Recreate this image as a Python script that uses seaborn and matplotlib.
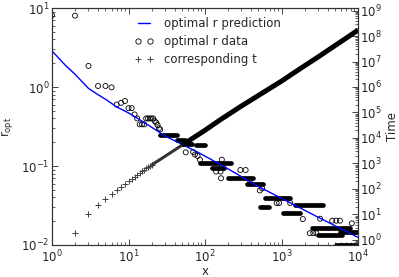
import matplotlib
matplotlib.use("Agg")
import matplotlib.pyplot as plt
import matplotlib.ticker as mticker
import seaborn as sns
import numpy as np
from matplotlib.lines import Line2D

# optimal r prediction
pred_x = [1, 1.5, 2, 3, 4, 5, 7, 10, 15, 20, 30, 50, 80, 130, 200, 500, 1000, 3000, 10000]
pred_r = [2.86, 1.88, 1.45, 0.96, 0.80, 0.70, 0.56, 0.47, 0.37, 0.31, 0.24, 0.188, 0.15,
          0.116, 0.092, 0.055, 0.039, 0.0225, 0.0125]

# optimal r data, isolated circles
data_x = [1, 2, 3, 4, 5, 6, 7, 8, 9, 10, 11, 12, 13, 14, 15, 16, 17, 18, 19, 20, 21, 22,
          23, 24, 25, 26, 56, 70, 74, 80, 86, 140, 160, 162, 166, 290, 340, 387, 520, 560,
          865, 930, 1300, 1900, 2350, 2600, 2850, 3200, 4600, 5200, 5800, 8300]
data_r = [8.1, 8.0, 1.85, 1.03, 1.03, 0.99, 0.60, 0.63, 0.665, 0.54, 0.54, 0.45, 0.40,
          0.337, 0.337, 0.337, 0.40, 0.40, 0.40, 0.40, 0.40, 0.37, 0.355, 0.33, 0.30, 0.29,
          0.149, 0.15, 0.14, 0.134, 0.12, 0.085, 0.085, 0.07, 0.12, 0.089, 0.089, 0.066,
          0.049, 0.052, 0.034, 0.034, 0.034, 0.0213, 0.0141, 0.0141, 0.0141, 0.0215,
          0.0203, 0.0203, 0.0203, 0.0188]

# optimal r data, runs of equal r (overlapping circles)
run_x0 = [25.7, 42.5, 50, 76, 86, 125, 200, 350, 610, 525, 1050, 1500, 2500, 3000, 5800, 5200]
run_x1 = [42.5, 55, 67, 100, 220, 175, 425, 575, 1300, 680, 1750, 3500, 7800, 6100, 10000, 10000]
run_r = [0.247, 0.213, 0.19, 0.185, 0.11, 0.094, 0.070, 0.060, 0.039, 0.030, 0.0254,
         0.032, 0.0165, 0.0134, 0.0147, 0.0100]

# corresponding t, separate plus markers
t_x = [2, 3, 4, 5, 6, 7, 8, 9, 10, 11, 12, 13, 14, 15, 16, 17, 18, 19, 20]
t_val = [1.9, 10, 23, 39, 63, 89, 120, 157, 200, 240, 288, 346, 410, 494, 570, 665, 740,
         820, 870]
# corresponding t, dense band
band_x = [20, 30, 50, 100, 157, 300, 1000, 1746, 3000, 10000]
band_t = [870, 1.9e3, 5.2e3, 2.0e4, 5.1e4, 1.8e5, 1.7e6, 5.2e6, 1.5e7, 1.7e8]

sns.set_style("ticks")
plt.rcParams["font.family"] = ["DejaVu Sans"]
plt.rcParams["font.size"] = 8.5
plt.rcParams["xtick.direction"] = "in"
plt.rcParams["ytick.direction"] = "in"

fig = plt.figure(figsize=(3.99, 2.77), dpi=100)
ax = fig.add_axes([52 / 399, 1 - 245 / 277, 306 / 399, 237 / 277])
ax.set_xscale("log")
ax.set_yscale("log")

sns.lineplot(x=pred_x, y=pred_r, ax=ax, color="#0000ff", linewidth=1.0, zorder=3)
sns.scatterplot(x=data_x, y=data_r, ax=ax, marker="o", s=13, facecolor="none",
                edgecolor="k", linewidth=0.6, zorder=2)
for x0, x1, r in zip(run_x0, run_x1, run_r):
    ax.plot([x0, x1], [r, r], color="k", linewidth=3.4, solid_capstyle="round", zorder=2)

ax.set_xlim(1, 1e4)
ax.set_ylim(1e-2, 1e1)
ax.set_xlabel("x")
ax.xaxis.set_label_coords(0.5, -0.085)
ax.set_ylabel(r"r$_{\rm opt}$", labelpad=4)
ax.tick_params(which="both", top=True, right=False, labelsize=8.5)
ax.tick_params(which="major", length=4, width=0.6)
ax.tick_params(which="minor", length=2, width=0.5)
ax.tick_params(axis="x", pad=3)
ax.tick_params(axis="y", pad=2)

ax2 = ax.twinx()
ax2.set_yscale("log")
sns.scatterplot(x=t_x, y=t_val, ax=ax2, marker="+", s=13, color="0.25", linewidth=0.7)
# band gets darker and thicker where the plus markers pile up
ax2.plot(band_x[:3], band_t[:3], color="0.2", linewidth=2.2, solid_capstyle="butt")
ax2.plot(band_x[2:], band_t[2:], color="k", linewidth=3.6, solid_capstyle="butt")
ax2.set_ylim(10 ** -0.2, 10 ** 9.1)
ax2.yaxis.set_major_locator(mticker.LogLocator(base=10, numticks=20))
ax2.yaxis.set_minor_locator(mticker.LogLocator(base=10, subs=np.arange(2, 10), numticks=20))
ax2.yaxis.set_minor_formatter(mticker.NullFormatter())
ax2.set_ylabel("Time", labelpad=3)
ax2.tick_params(which="both", right=True, labelsize=8.5, pad=1.5)
ax2.tick_params(which="major", length=4, width=0.6)
ax2.tick_params(which="minor", length=2, width=0.5)

for a in (ax, ax2):
    for s in a.spines.values():
        s.set_linewidth(0.8)
        s.set_color("0.2")

handles = [
    Line2D([], [], color="#0000ff", linewidth=1.0),
    Line2D([], [], linestyle="none", marker="o", markersize=3.8, markerfacecolor="none",
           markeredgecolor="k", markeredgewidth=0.6),
    Line2D([], [], linestyle="none", marker="+", markersize=3.8, color="0.25",
           markeredgewidth=0.7),
]
labels = ["optimal r prediction", "optimal r data", "corresponding t"]
ax2.legend(handles, labels, loc="upper left", bbox_to_anchor=(0.254, 0.98),
           borderaxespad=0, frameon=False, numpoints=2, handlelength=1.6,
           handletextpad=0.9, labelspacing=0.4, fontsize=8.5)

fig.savefig("out.png", dpi=100)
